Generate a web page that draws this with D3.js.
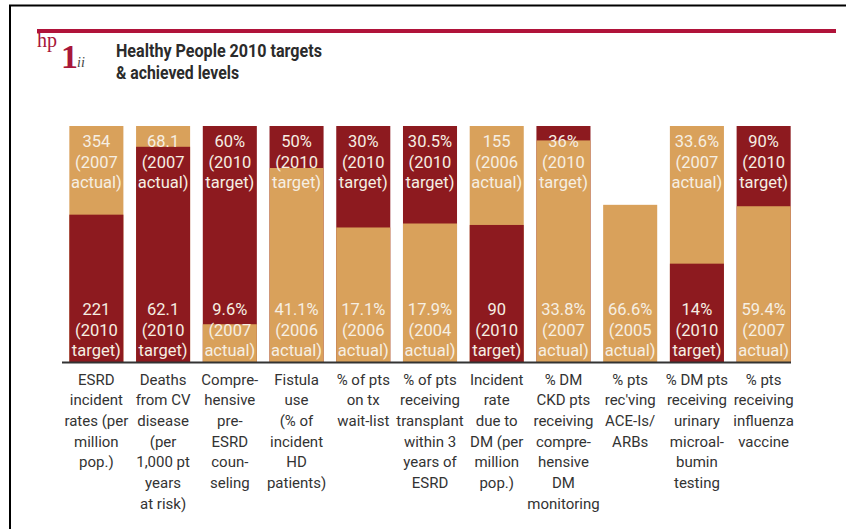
<!DOCTYPE html>
<html>
<head>
<meta charset="utf-8">
<script src="https://cdn.jsdelivr.net/npm/d3@7"></script>
<style>
  body { margin: 0; background: #fff; }
  svg { display: block; }
</style>
</head>
<body>
<script>
// categories, one array of wrapped lines each
var categories = [
    ["ESRD", "incident", "rates (per", "million", "pop.)"],
    ["Deaths", "from CV", "disease", "(per", "1,000 pt", "years", "at risk)"],
    ["Compre-", "hensive", "pre-", "ESRD", "coun-", "seling"],
    ["Fistula", "use", "(% of", "incident", "HD", "patients)"],
    ["% of pts", "on tx", "wait-list"],
    ["% of pts", "receiving", "transplant", "within 3", "years of", "ESRD"],
    ["Incident", "rate", "due to", "DM (per", "million", "pop.)"],
    ["% DM", "CKD pts", "receiving", "compre-", "hensive", "DM", "monitoring"],
    ["% pts", "rec'ving", "ACE-Is/", "ARBs"],
    ["% DM pts", "receiving", "urinary", "microal-", "bumin", "testing"],
    ["% pts", "receiving", "influenza", "vaccine"]
];
var targetValues = [221, 62.1, 60, 50, 30, 30.5, 90, 36, null, 14, 90];
var actualValues = [354, 68.1, 9.6, 41.1, 17.1, 17.9, 155, 33.8, 66.6, 33.6, 59.4];
var actualYears = [2007, 2007, 2007, 2006, 2006, 2004, 2006, 2007, 2005, 2007, 2007];
var isPercent = [false, false, true, true, true, true, false, true, true, true, true];
var targetYear = 2010;

const width = 846;
const height = 529;
const RED = "#8d1a1f";
const TAN = "#d9a15b";
const barTop = 126;
const barBottom = 362;

var svg = d3.select("body").append("svg")
    .attr("width", width)
    .attr("height", height);

// frame lines (top + left)
svg.append("line").attr("x1", 9).attr("x2", width).attr("y1", 5.5).attr("y2", 5.5)
    .attr("stroke", "#000").attr("stroke-width", 2);
svg.append("line").attr("x1", 10).attr("x2", 10).attr("y1", 5).attr("y2", height)
    .attr("stroke", "#000").attr("stroke-width", 2);

// crimson rule
svg.append("rect").attr("x", 37).attr("y", 29).attr("width", 799).attr("height", 4)
    .attr("fill", "#b0133a");

// hp1ii mark
svg.append("text").attr("x", 37).attr("y", 47)
    .attr("font-family", "Liberation Serif, DejaVu Serif, serif")
    .attr("font-size", 20).attr("fill", "#a8173a").text("hp");
svg.append("text").attr("x", 61).attr("y", 68)
    .attr("font-family", "Liberation Serif, DejaVu Serif, serif")
    .attr("font-size", 34).attr("font-weight", "bold").attr("fill", "#a8173a").text("1");
svg.append("text").attr("x", 77).attr("y", 67)
    .attr("font-family", "Liberation Serif, DejaVu Serif, serif")
    .attr("font-size", 14).attr("font-style", "italic").attr("fill", "#444").text("ii");

// title
var title = svg.append("g")
    .attr("font-family", "Roboto, sans-serif")
    .attr("font-weight", "bold")
    .attr("font-size", 19)
    .attr("fill", "#2b2b2b");
title.append("text").attr("x", 116).attr("y", 57)
    .attr("textLength", 206).attr("lengthAdjust", "spacingAndGlyphs")
    .text("Healthy People 2010 targets");
title.append("text").attr("x", 116).attr("y", 79)
    .attr("textLength", 123).attr("lengthAdjust", "spacingAndGlyphs")
    .text("& achieved levels");

var x = d3.scaleBand()
    .domain(d3.range(categories.length))
    .range([63, 797])
    .paddingInner(0.19)
    .paddingOuter(0.095);

var rows = categories.map(function (c, i) {
    return {
        i: i,
        target: targetValues[i],
        actual: actualValues[i],
        year: actualYears[i],
        pct: isPercent[i]
    };
});

function fmt(v, pct) { return v + (pct ? "%" : ""); }

rows.forEach(function (d) {
    var segs = [];
    segs.push({ kind: "actual", value: d.actual, lines: [fmt(d.actual, d.pct), "(" + d.year, "actual)"], color: TAN });
    if (d.target != null) {
        segs.push({ kind: "target", value: d.target, lines: [fmt(d.target, d.pct), "(" + targetYear, "target)"], color: RED });
    }
    segs.sort(function (a, b) { return b.value - a.value; });
    var maxVal = d.target == null ? 100 : segs[0].value;
    var y = d3.scaleLinear().domain([0, maxVal]).range([barBottom, barTop]);

    var g = svg.append("g").attr("transform", "translate(" + x(d.i) + ",0)");
    g.selectAll("rect")
        .data(segs)
        .enter().append("rect")
        .attr("x", 0)
        .attr("width", x.bandwidth())
        .attr("y", function (s) { return y(s.value); })
        .attr("height", function (s) { return barBottom - y(s.value); })
        .attr("fill", function (s) { return s.color; });

    var cx = x.bandwidth() / 2;
    // larger value label at top of bar, smaller one at bottom
    segs.forEach(function (s, k) {
        var isBottom = (k === segs.length - 1);
        var startY = isBottom ? barBottom - 6 - 2 * 20.5 : y(s.value) + 21;
        var t = g.append("text")
            .attr("text-anchor", "middle")
            .attr("font-family", "Roboto, sans-serif")
            .attr("font-size", 16.5)
            .attr("fill", "#f6efe3");
        s.lines.forEach(function (ln, j) {
            t.append("tspan").attr("x", cx).attr("y", startY + j * 20.5).text(ln);
        });
    });

    // category label
    var lab = svg.append("text")
        .attr("text-anchor", "middle")
        .attr("font-family", "Roboto, sans-serif")
        .attr("font-size", 15)
        .attr("fill", "#333");
    categories[d.i].forEach(function (ln, j) {
        lab.append("tspan").attr("x", x(d.i) + cx).attr("y", 384.5 + j * 20.7).text(ln);
    });
});

// baseline
svg.append("line")
    .attr("x1", 62).attr("x2", 791)
    .attr("y1", barBottom + 0.5).attr("y2", barBottom + 0.5)
    .attr("stroke", "#333").attr("stroke-width", 2);
</script>
</body>
</html>
